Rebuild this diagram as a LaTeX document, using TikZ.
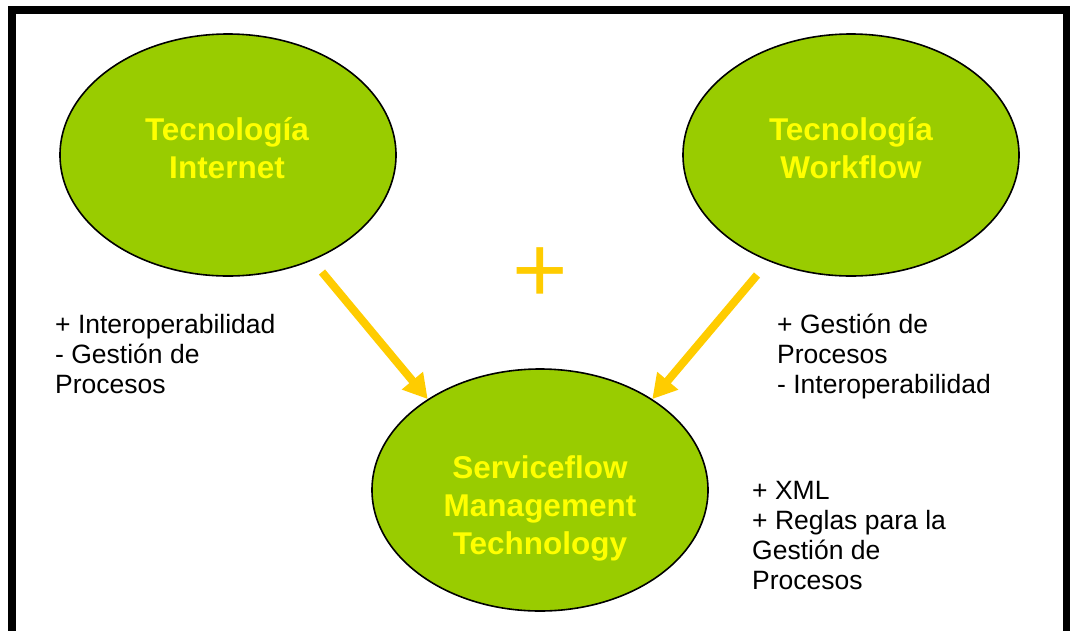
\documentclass[tikz,border=0pt]{standalone}
\usepackage{fontspec}
\setmainfont{Liberation Sans}
\usetikzlibrary{shapes.geometric,arrows.meta,positioning}
\definecolor{leaf}{HTML}{99CC00}
\definecolor{gold}{HTML}{FFCC00}
\definecolor{lemon}{HTML}{FFFF00}

\begin{document}
\begin{tikzpicture}[x=1pt, y=-1pt,
  blob/.style={ellipse, draw, line width=1.6pt, fill=leaf, minimum width=336pt, minimum height=242pt, inner sep=0pt},
  title/.style={text=lemon, font=\fontsize{31.5}{38}\selectfont\bfseries, align=center, inner sep=0pt},
  note/.style={font=\fontsize{26.5}{30}\selectfont, align=left, anchor=north west, inner sep=0pt},
  arr/.style={-{Triangle[length=24pt, width=26pt]}, line width=8pt, gold}
]
  \useasboundingbox (0,0) rectangle (1070,630);
  \clip (0,0) rectangle (1070,630);
  % frame
  \draw[line width=8pt] (12,650) -- (12,10) -- (1066.5,10) -- (1066.5,650);

  \node[blob] (inet) at (228,155) {};
  \node[blob] (wflow) at (851,155) {};
  \node[blob] (smt) at (540,490) {};

  \node[title] (inet-t) at (227,148) {Tecnología\\Internet};
  \node[title] (wflow-t) at (851,148) {Tecnología\\Workflow};
  \node[title] (smt-t) at (540,508) {Serviceflow\\Management\\Technology};

  \node[note] (inet-n) at (55,314) {+ Interoperabilidad\\- Gestión de\\Procesos};
  \node[note] (wflow-n) at (777,314) {+ Gestión de\\Procesos\\- Interoperabilidad};
  \node[note] (smt-n) at (752,481) {+ XML\\+ Reglas para la\\Gestión de\\Procesos};

  \node[text=gold, font=\fontsize{95}{95}\selectfont, inner sep=0pt] (plus) at (540,275) {+};

  \coordinate (inet-s) at (322,272);
  \coordinate (wflow-s) at (757,275);
  \draw[arr] (inet-s) -- (smt.141);
  \draw[arr] (wflow-s) -- (smt.39);
\end{tikzpicture}
\end{document}
